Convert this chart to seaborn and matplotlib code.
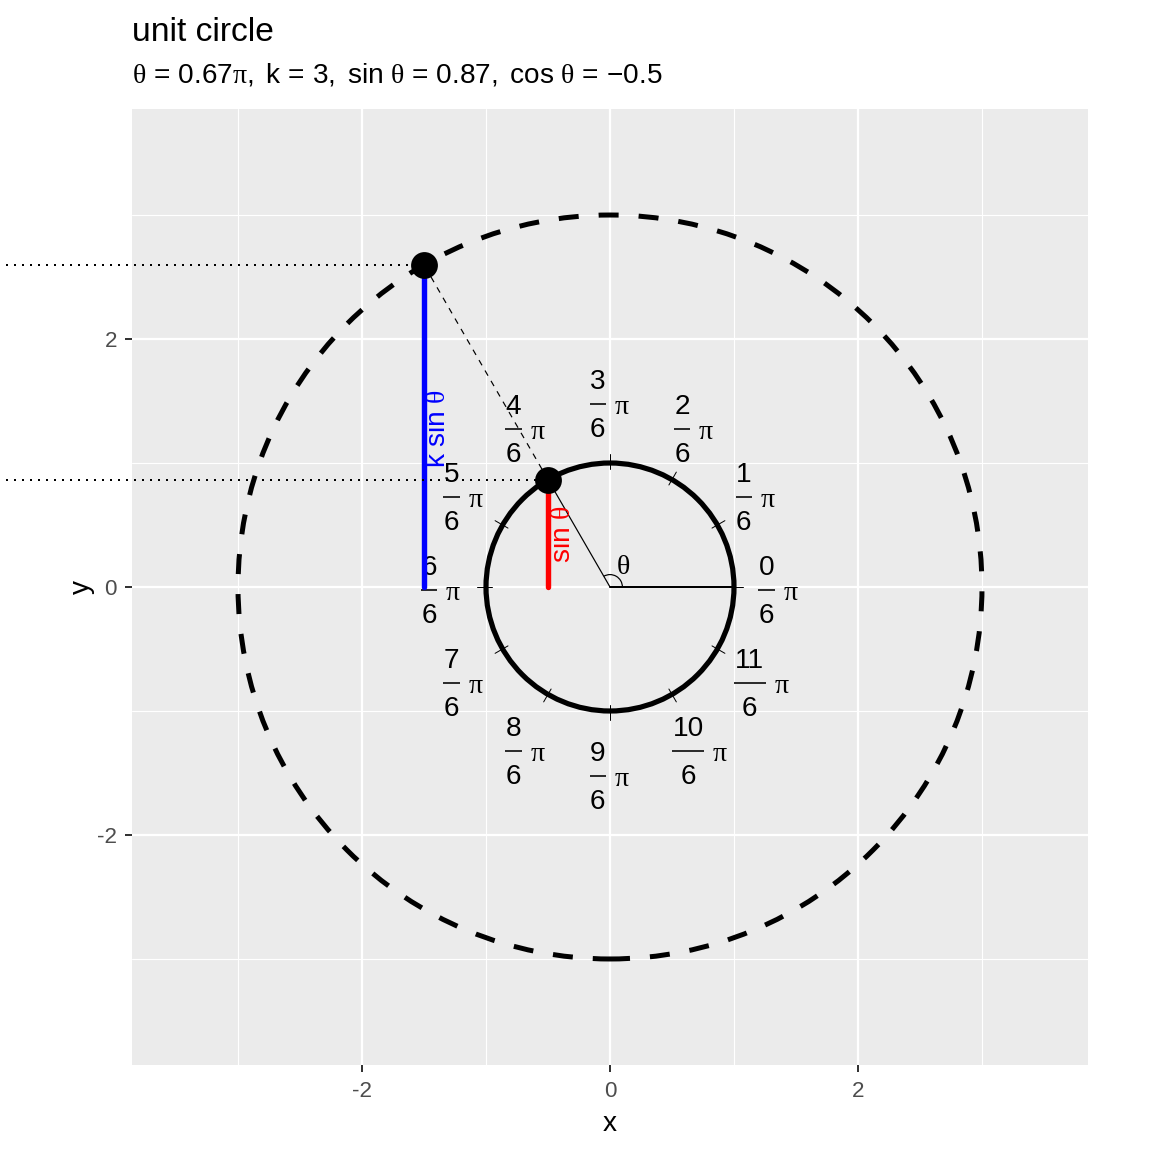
import numpy as np
import matplotlib
matplotlib.use("Agg")
import matplotlib.pyplot as plt
import seaborn as sns
from matplotlib.patches import Circle, Arc

# ---- data ----
theta_pi = 2 / 3            # theta in units of pi
k = 3                       # scale factor
tick_numerators = list(range(12))
tick_denominator = 6
major_breaks = [-2, 0, 2]
minor_breaks = [-3, -1, 1, 3]
title = "unit circle"
axis_limit = 3.855

theta = theta_pi * np.pi
sin_t = np.sin(theta)
cos_t = np.cos(theta)

sns.set_theme(style="darkgrid")
plt.rcParams.update({
    "font.family": ["Liberation Sans", "DejaVu Sans"],
    "mathtext.fontset": "custom",
    "mathtext.rm": "Liberation Sans",
    "mathtext.it": "Liberation Serif",
    "mathtext.bf": "Liberation Sans:bold",
    "mathtext.sf": "Liberation Sans",
    "axes.unicode_minus": False,
    "axes.facecolor": "#EBEBEB",
    "figure.facecolor": "white",
    "text.color": "black",
    "axes.labelcolor": "black",
})

fig = plt.figure(figsize=(8, 8), dpi=144)
ax = fig.add_axes([132 / 1152, 1 - 1065 / 1152, 956 / 1152, 956 / 1152])
ax.set_facecolor("#EBEBEB")
for sp in ax.spines.values():
    sp.set_visible(False)

ax.set_xlim(-axis_limit, axis_limit)
ax.set_ylim(-axis_limit, axis_limit)
ax.set_xticks(major_breaks)
ax.set_yticks(major_breaks)
ax.set_xticks(minor_breaks, minor=True)
ax.set_yticks(minor_breaks, minor=True)
ax.set_xticklabels([str(b) for b in major_breaks])
ax.set_yticklabels([str(b) for b in major_breaks])
ax.grid(which="major", color="white", linewidth=1.1)
ax.grid(which="minor", color="white", linewidth=0.55)
ax.tick_params(which="major", length=3.5, width=1.0, color="#333333",
               labelsize=11.2, labelcolor="#4D4D4D", bottom=True, left=True)
ax.tick_params(axis="x", which="major", pad=4.5)
ax.tick_params(axis="y", which="major", pad=4.0)
ax.tick_params(which="minor", length=0)
ax.set_axisbelow(True)

# size helpers: 1 data unit = 124 px on the panel
PX = 1 / 124.0
DIGIT_W = 15.6 * PX     # width of one digit at 14pt
PI_W = 15.4 * PX
GAP = 9 * PX

# fraction labels around the unit circle (n / 6 pi)
for n in tick_numerators:
    a = n * np.pi / tick_denominator
    cx, cy = 1.36 * np.cos(a), 1.50 * np.sin(a)
    num = str(n)
    fw = len(num) * DIGIT_W
    whole = fw + GAP + PI_W
    fx = cx - whole / 2 + fw / 2 + (len(num) - 1) * 6 * PX
    bar_y = cy - 3 * PX
    ax.text(fx, bar_y + 15 * PX, num, ha="center", va="baseline",
            fontsize=14, color="black", zorder=2)
    ax.text(fx, bar_y - 33 * PX, str(tick_denominator), ha="center",
            va="baseline", fontsize=14, color="black", zorder=2)
    ax.plot([fx - fw / 2 - 0.5 * PX, fx + fw / 2 + 0.5 * PX], [bar_y, bar_y],
            color="black", lw=0.8, solid_capstyle="butt", zorder=2)
    ax.text(fx + fw / 2 + GAP, bar_y - 10 * PX, "\u03c0", ha="left",
            va="baseline", fontsize=14, color="black",
            family=["Liberation Serif", "DejaVu Serif"], zorder=2)
    # radial tick on the unit circle
    ax.plot([0.95 * np.cos(a), 1.07 * np.cos(a)],
            [0.95 * np.sin(a), 1.07 * np.sin(a)],
            color="black", lw=0.5, zorder=3)

# circles
ax.add_patch(Circle((0, 0), 1, fill=False, lw=2.6, color="black", zorder=3))
ax.add_patch(Circle((0, 0), k, fill=False, lw=2.5, color="black",
                    linestyle=(0, (4, 4)), zorder=3))

# angle
ax.plot([0, 1], [0, 0], color="black", lw=1.0, zorder=4)
ax.plot([0, cos_t], [0, sin_t], color="black", lw=0.6, zorder=4)
ax.plot([cos_t, k * cos_t], [sin_t, k * sin_t], color="black", lw=0.6,
        linestyle=(0, (5, 5)), zorder=4)
ax.add_patch(Arc((0, 0), 0.2, 0.2, theta1=0, theta2=np.degrees(theta),
                 lw=0.6, color="black", zorder=4))
ax.text(0.105, 0.16, r"$\theta$", fontsize=14, ha="center", va="center", zorder=5)

# sine segments
ax.plot([cos_t, cos_t], [0, sin_t], color="red", lw=2.7, zorder=5)
ax.plot([k * cos_t, k * cos_t], [0, k * sin_t], color="blue", lw=2.7, zorder=5)
ax.text(cos_t + 0.12, sin_t / 2 - 0.01, r"$\mathrm{sin}\ \theta$", color="red",
        rotation=90, ha="center", va="center", fontsize=14, zorder=6)
ax.text(k * cos_t + 0.11, k * sin_t / 2 - 0.02, r"$\mathrm{k\ sin}\ \theta$",
        color="blue", rotation=90, ha="center", va="center", fontsize=14, zorder=6)

# dotted guides (extend beyond panel)
dot_start = -4.87
ax.plot([dot_start, cos_t], [sin_t, sin_t], color="black", lw=1.0,
        linestyle=(0, (1, 3)), clip_on=False, zorder=6)
ax.plot([dot_start, k * cos_t], [k * sin_t, k * sin_t], color="black", lw=1.0,
        linestyle=(0, (1, 3)), clip_on=False, zorder=6)

# points
sns.scatterplot(x=[cos_t, k * cos_t], y=[sin_t, k * sin_t], s=180,
                color="black", linewidth=0, ax=ax, zorder=7, legend=False)

ax.set_xlabel("x", fontsize=14, color="black", va="center")
ax.set_ylabel("y", fontsize=14, color="black", va="center")
ax.xaxis.set_label_coords(0.5, (1065 - 1124) / 956)
ax.yaxis.set_label_coords((82 - 132) / 956, 0.5)

subtitle = (rf"$\theta\,=\,{round(theta_pi, 2):g}\pi,\ \mathrm{{k}}\,=\,{k},\ "
            rf"\mathrm{{sin}}\ \theta\,=\,{round(sin_t, 2):g},\ "
            rf"\mathrm{{cos}}\ \theta\,=\,{{{round(cos_t, 2):g}}}$")
fig.text(132 / 1152, 1 - 41 / 1152, title, fontsize=16.8, va="baseline", ha="left")
fig.text(132 / 1152, 1 - 83 / 1152, subtitle, fontsize=14, va="baseline", ha="left")

fig.savefig("out.png", dpi=144)
